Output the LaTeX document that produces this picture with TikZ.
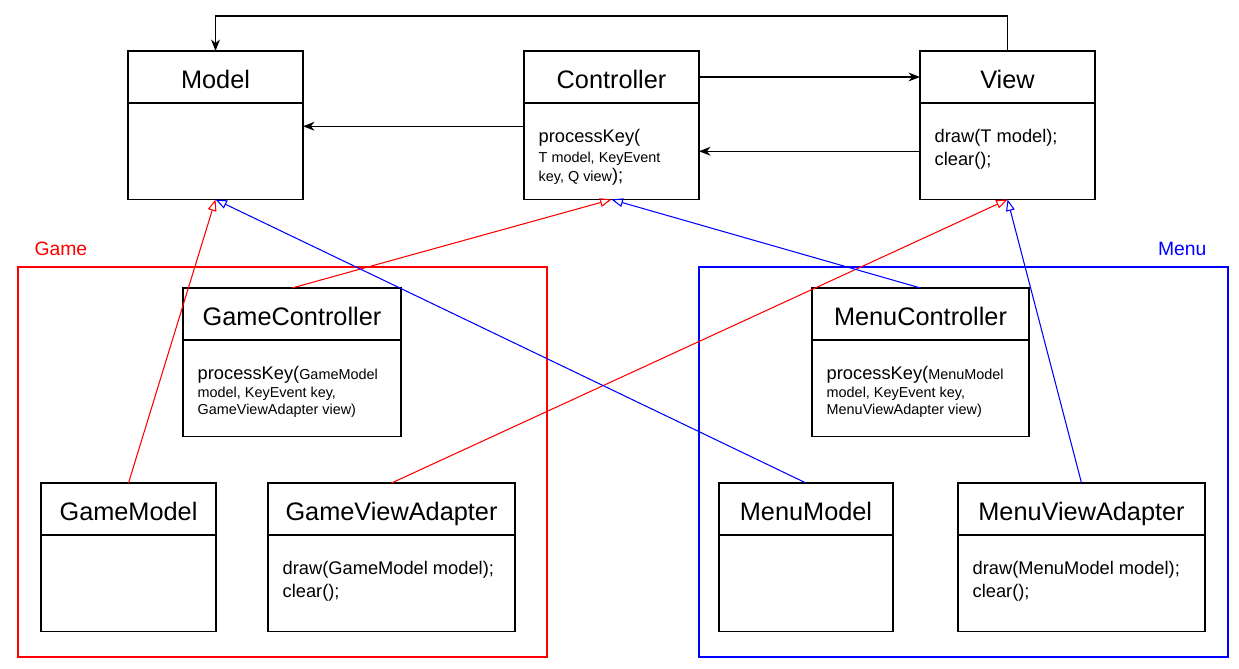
\documentclass[tikz,border=0pt]{standalone}
\usepackage{fontspec}
\setmainfont{Liberation Sans}
\usetikzlibrary{arrows.meta,positioning}

\begin{document}
\begin{tikzpicture}[line width=0.8pt,
    head/.style={draw,anchor=north west,inner sep=0pt,outer sep=0pt,minimum height=1.04cm,text height=13pt,text depth=0.4pt,font=\fontsize{14.4}{17}\selectfont},
    box/.style={draw,inner sep=0pt,outer sep=0pt,minimum height=1.93cm},
    txt/.style={anchor=north west,align=left,inner sep=0pt,font=\fontsize{10.4}{12.6}\selectfont},
    link/.style={-{Stealth[length=6.5pt,width=5pt,inset=2pt]}},
    inherit/.style={-{Triangle[open,length=6.5pt,width=5pt]},line width=0.6pt}]

    \useasboundingbox (0,0) rectangle (24.78,-13.36);

    % packages
    \draw[red] (0.36,-5.34) rectangle (10.94,-13.14);
    \draw[blue] (13.98,-5.34) rectangle (24.56,-13.14);
    \node[red,anchor=west,font=\fontsize{11}{13}\selectfont] (game) at (0.56,-4.98) {Game};
    \node[blue,anchor=east,font=\fontsize{11}{13}\selectfont] (menu) at (24.26,-4.98) {Menu};

    % generic classes
    \node[head,minimum width=3.5cm] (model) at (2.56,-1.02) {Model};
    \node[box,minimum width=3.5cm,below=0pt of model] (modelbox) {};

    \node[head,minimum width=3.5cm] (ctl) at (10.48,-1.02) {Controller};
    \node[box,minimum width=3.5cm,below=0pt of ctl] (ctlbox) {};
    \node[txt,font=\fontsize{10.4}{11}\selectfont] (ctltxt) at ([xshift=0.28cm,yshift=-0.52cm]ctlbox.north west)
        {processKey(\\ {\fontsize{8.2}{11}\selectfont T model, KeyEvent}\\ {\fontsize{8.2}{11}\selectfont key, Q view});};

    \node[head,minimum width=3.5cm] (view) at (18.4,-1.02) {View};
    \node[box,minimum width=3.5cm,below=0pt of view] (viewbox) {};
    \node[txt] (viewtxt) at ([xshift=0.28cm,yshift=-0.52cm]viewbox.north west) {draw(T model);\\clear();};

    % game
    \node[head,minimum width=4.36cm] (gctl) at (3.66,-5.76) {GameController};
    \node[box,minimum width=4.36cm,below=0pt of gctl] (gctlbox) {};
    \node[txt,font=\fontsize{8.2}{9.7}\selectfont] (gctltxt) at ([xshift=0.28cm,yshift=-0.52cm]gctlbox.north west)
        {{\fontsize{10.4}{9.7}\selectfont processKey(}GameModel\\ model, KeyEvent key,\\ GameViewAdapter view)};

    \node[head,minimum width=3.5cm] (gmodel) at (0.82,-9.66) {GameModel};
    \node[box,minimum width=3.5cm,below=0pt of gmodel] (gmodelbox) {};

    \node[head,minimum width=4.94cm] (gva) at (5.36,-9.66) {GameViewAdapter};
    \node[box,minimum width=4.94cm,below=0pt of gva] (gvabox) {};
    \node[txt] (gvatxt) at ([xshift=0.28cm,yshift=-0.52cm]gvabox.north west) {draw(GameModel model);\\clear();};

    % menu
    \node[head,minimum width=4.34cm] (mctl) at (16.24,-5.76) {MenuController};
    \node[box,minimum width=4.34cm,below=0pt of mctl] (mctlbox) {};
    \node[txt,font=\fontsize{8.2}{9.7}\selectfont] (mctltxt) at ([xshift=0.28cm,yshift=-0.52cm]mctlbox.north west)
        {{\fontsize{10.4}{9.7}\selectfont processKey(}MenuModel\\ model, KeyEvent key,\\ MenuViewAdapter view)};

    \node[head,minimum width=3.48cm] (mmodel) at (14.38,-9.66) {MenuModel};
    \node[box,minimum width=3.48cm,below=0pt of mmodel] (mmodelbox) {};

    \node[head,minimum width=4.94cm] (mva) at (19.16,-9.66) {MenuViewAdapter};
    \node[box,minimum width=4.94cm,below=0pt of mva] (mvabox) {};
    \node[txt] (mvatxt) at ([xshift=0.28cm,yshift=-0.52cm]mvabox.north west) {draw(MenuModel model);\\clear();};

    % associations
    \draw[link] (ctl.east) -- (view.west);
    \draw[link] (viewbox.west) -- (ctlbox.east);
    \draw[link] ([yshift=0.5cm]ctlbox.west) -- ([yshift=0.5cm]modelbox.east);
    \draw[link] (view.north) -- ++(0,0.7) -| (model.north);

    % inheritance
    \draw[inherit,red] (gmodel.north) -- (modelbox.south);
    \draw[inherit,red] (gctl.north) -- (ctlbox.south);
    \draw[inherit,red] (gva.north) -- (viewbox.south);
    \draw[inherit,blue] (mmodel.north) -- (modelbox.south);
    \draw[inherit,blue] (mctl.north) -- (ctlbox.south);
    \draw[inherit,blue] (mva.north) -- (viewbox.south);
\end{tikzpicture}
\end{document}
